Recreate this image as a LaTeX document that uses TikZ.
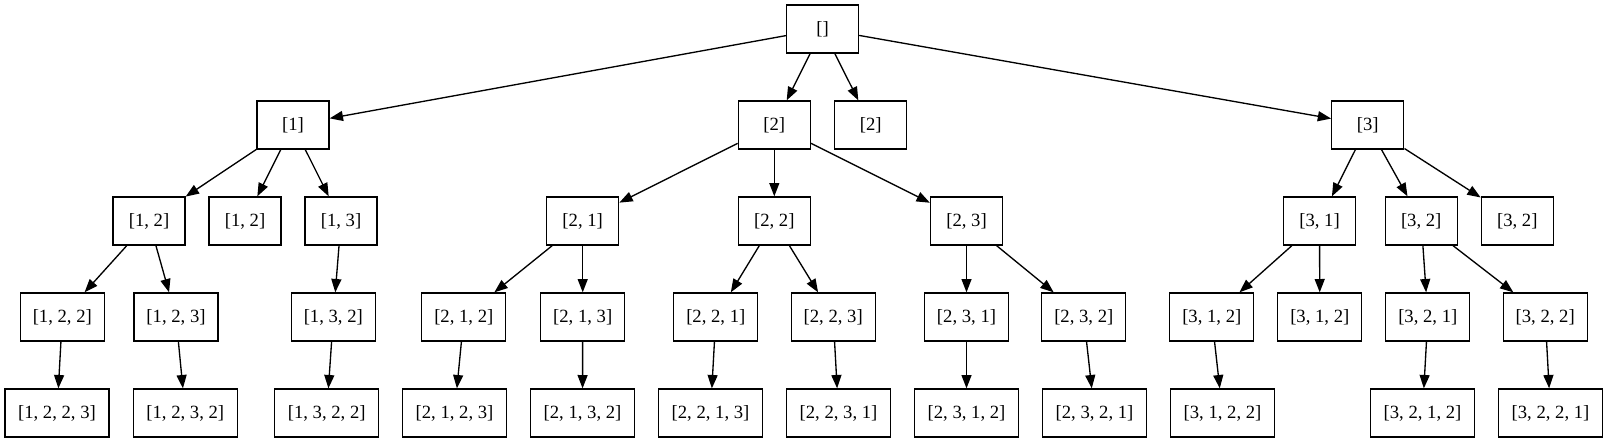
\documentclass[tikz,border=0pt]{standalone}
\usepackage{fontspec}
\setmainfont{Liberation Serif}
\usetikzlibrary{arrows.meta}
\begin{document}
\begin{tikzpicture}[x=0.75pt,y=-0.75pt,
  box/.style={draw, line width=1pt, minimum height=36pt, minimum width=54pt, inner sep=0pt,
    font=\fontsize{14}{16}\selectfont},
  w3/.style={box, minimum width=63pt},
  w4/.style={box, minimum width=78pt},
  edge/.style={line width=1pt, -{Triangle[length=10pt,width=7.5pt]}}]
\useasboundingbox (0,0) rectangle (1608,443);
% row 0
\node[box] (r) at (822.5,29) {[]};
% row 1
\node[box] (n1) at (293,125) {[1]};
\node[box] (n2) at (774.3,125) {[2]};
\node[box] (n2b) at (870.7,125) {[2]};
\node[box] (n3) at (1367.8,125) {[3]};
% row 2
\node[box] (n12) at (149,221) {[1, 2]};
\node[box] (n12b) at (245,221) {[1, 2]};
\node[box] (n13) at (341,221) {[1, 3]};
\node[box] (n21) at (582.7,221) {[2, 1]};
\node[box] (n22) at (774.3,221) {[2, 2]};
\node[box] (n23) at (966.5,221) {[2, 3]};
\node[box] (n31) at (1319.5,221) {[3, 1]};
\node[box] (n32) at (1421.2,221) {[3, 2]};
\node[box] (n32b) at (1517.3,221) {[3, 2]};
% row 3
\node[w3] (n122) at (62.3,317) {[1, 2, 2]};
\node[w3] (n123) at (176,317) {[1, 2, 3]};
\node[w3] (n132) at (333.3,317) {[1, 3, 2]};
\node[w3] (n212) at (463.8,317) {[2, 1, 2]};
\node[w3] (n213) at (582.7,317) {[2, 1, 3]};
\node[w3] (n221) at (715.8,317) {[2, 2, 1]};
\node[w3] (n223) at (833.2,317) {[2, 2, 3]};
\node[w3] (n231) at (966.5,317) {[2, 3, 1]};
\node[w3] (n232) at (1083.8,317) {[2, 3, 2]};
\node[w3] (n312) at (1211.8,317) {[3, 1, 2]};
\node[w3] (n312b) at (1319.8,317) {[3, 1, 2]};
\node[w3] (n321) at (1427.8,317) {[3, 2, 1]};
\node[w3] (n322) at (1545.2,317) {[3, 2, 2]};
% row 4
\node[w4] (n1223) at (57,413) {[1, 2, 2, 3]};
\node[w4] (n1232) at (185.3,413) {[1, 2, 3, 2]};
\node[w4] (n1322) at (326.7,413) {[1, 3, 2, 2]};
\node[w4] (n2123) at (454.5,413) {[2, 1, 2, 3]};
\node[w4] (n2132) at (582.5,413) {[2, 1, 3, 2]};
\node[w4] (n2213) at (710.5,413) {[2, 2, 1, 3]};
\node[w4] (n2231) at (838.5,413) {[2, 2, 3, 1]};
\node[w4] (n2312) at (966.5,413) {[2, 3, 1, 2]};
\node[w4] (n2321) at (1094.5,413) {[2, 3, 2, 1]};
\node[w4] (n3122) at (1222.5,413) {[3, 1, 2, 2]};
\node[w4] (n3212) at (1422.5,413) {[3, 2, 1, 2]};
\node[w4] (n3221) at (1550.5,413) {[3, 2, 2, 1]};
% edges
\foreach \a/\b in {r/n1, r/n2, r/n2b, r/n3,
  n1/n12, n1/n12b, n1/n13,
  n2/n21, n2/n22, n2/n23,
  n3/n31, n3/n32, n3/n32b,
  n12/n122, n12/n123, n13/n132,
  n21/n212, n21/n213, n22/n221, n22/n223, n23/n231, n23/n232,
  n31/n312, n31/n312b, n32/n321, n32/n322,
  n122/n1223, n123/n1232, n132/n1322,
  n212/n2123, n213/n2132, n221/n2213, n223/n2231, n231/n2312, n232/n2321,
  n312/n3122, n321/n3212, n322/n3221}
  \draw[edge] (\a) -- (\b);
\end{tikzpicture}
\end{document}
